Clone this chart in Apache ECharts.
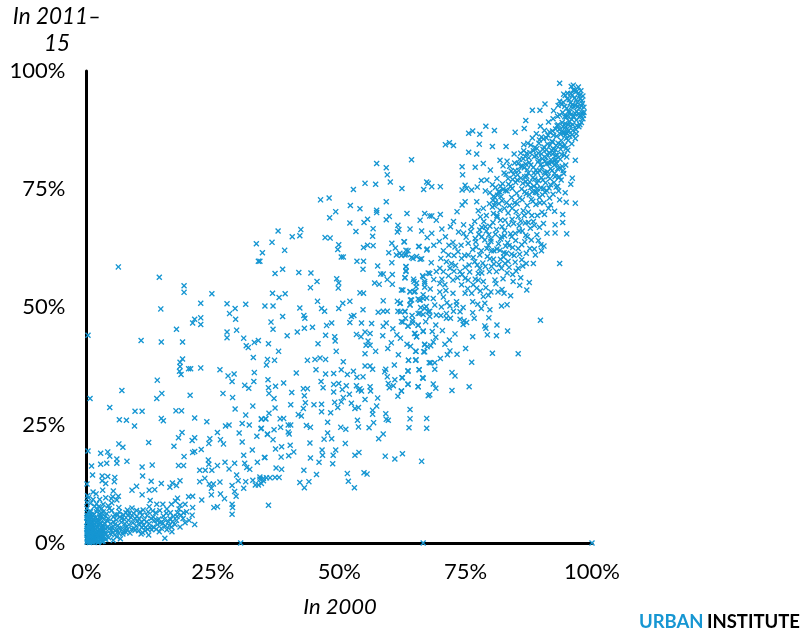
<!DOCTYPE html>
<html><head><meta charset="utf-8">
<style>html,body{margin:0;padding:0;background:#fff}#c{width:800px;height:637px}</style>
<script src="https://cdn.jsdelivr.net/npm/echarts@6/dist/echarts.min.js"></script>
</head><body><div id="c"></div>
<script>
const xTicks = ['0%','25%','50%','75%','100%'];
const yTicks = ['0%','25%','50%','75%','100%'];
const axisEdge = [[30.5,0],[66.6,0],[100,0],[0.3,44],[0.7,30.6],[0.3,19.5],[0.1,12.5],[0.2,10],[0.1,8.6]];
const upperLeft = [[6.3,58.5],[14.4,56.3],[19.3,54.5],[19.3,53.1],[24.8,52.8],[33.6,63.4],[34,59.7],[14.7,49.6],[22.6,50.8],[27.8,50.7],[31.5,50.6],[29.4,49.7],[28.3,48.6],[21.4,47.4],[22.6,47.7],[21,46.6],[22.6,46.3],[29.5,47.4],[17.8,45.3],[27.8,44.7],[27.8,43.5],[29.7,45.1],[31.1,43.4],[10.8,42.9],[14.8,42.6],[19,42.6],[33.2,42.5],[34,42.9],[31.6,41.8],[32,41.4],[19,39],[33,39.3],[18.5,38.3],[18.5,37.4],[18.4,36.4],[18.7,35.7],[20.2,36.9],[20.6,36.9],[22.6,37.1],[26.4,36.7],[28,35.4],[29.2,35.8],[33.2,36.1],[14,34.5],[28.8,34.2],[33.1,34.2],[31.3,33.4],[32.1,32.8],[7,32.3],[14.9,31.7],[20.5,31.3],[27,31.7],[28.9,30.8],[13.9,30.6]];
const lowerLeft = [[4.6,28.7],[6.5,26.1],[7.9,26],[9.6,27.9],[11,27.9],[9.5,24.8],[14.8,26.4],[15.2,25.9],[17.7,28],[18.8,28],[21.4,26.5],[23.8,25.7],[32.9,29],[31.5,27.1],[29.4,28.4],[34.6,26.2],[35.4,26.3],[30.8,25.3],[32.2,25],[27.5,24.8],[28.2,25],[25.9,23.4],[30.2,23.3],[34.5,24.2],[35.8,23.1],[33.7,22.6],[18.9,23.4],[18.2,22.3],[21.4,22.3],[20.9,21.7],[24.4,22.1],[24.2,21.1],[26.5,21.9],[27.1,21],[30.8,21.4],[12.3,21.3],[6.4,21],[7.2,20.3],[17.3,20.5],[22.7,19.8],[21,19.2],[21.4,19.4],[32.8,19.7],[2.8,19],[4.2,19.3],[4.6,18.4],[6,17.8],[6,16.9],[8,17.3],[2.8,16.7],[4,16.9],[1,16.3],[11,16.1],[13,16.5],[19.3,18.3],[18.2,16.4],[19.2,16.4],[24.1,17.6],[24.2,16.7],[27.4,17.1],[29.3,16.9],[31.1,18.6],[31.3,16.9],[33.8,17.1],[35.3,18.1],[25.9,16.4],[28.2,15.7],[31.7,16],[32.3,15.6],[22.4,15.4],[23.5,15.4],[24.8,15.4],[1.2,14.4],[11.1,14.2],[3.1,14.2],[4.2,14.1],[5.6,13.9],[3.1,13.2],[3.8,12.6],[5.5,13],[12.8,13.1],[14.8,12.6],[18.5,13.2],[17,12.7],[16.5,11.8],[17.8,12.2],[22.4,13],[23.4,13.7],[24.3,12.5],[25.1,12.5],[26.4,12.9],[29.7,14.4],[30,13.2],[31.5,13],[32.9,13.3],[34.3,14],[35.6,13.8],[35,13.2],[33.4,12.3],[34,12.3],[28.8,12.2],[31.1,11.6],[9.9,12],[9,11.2],[12.4,11.2],[13.5,11.3],[5.3,11],[1.3,10.8],[11,10.2],[24.7,11.6],[24.7,10.2],[26.5,10.4],[29.3,10.9],[29.6,9.9],[27.3,9.4],[0.4,9.6],[6.3,9.9],[1.3,9.2],[5.2,9.8],[6,9.1],[20.2,9.8],[21,9.9],[22.8,9.1],[12.6,9],[18,9.5],[17.6,8.9],[0.8,8.4],[5,8.5],[3.3,8.2],[28.8,8.2],[28.9,7.5],[28.8,6.1],[36,8],[25.9,7.7],[25.2,7.5],[12.4,7.7],[13.9,8.2],[15.1,8.2],[16.8,8.2],[6.4,7.5],[21,7.5],[18.5,8],[19.5,8.2]];
const lowBand = [[19.8,6.6],[20.9,5.9],[21.4,3.9],[20.3,4.8],[19.5,4.3],[18.5,3.4],[16.8,3.4],[14.4,2.4],[15.5,1],[12.3,1.7],[11.1,2.2],[10.6,6.6],[11,5.9],[8.1,7],[8.5,6.3],[13.2,5.5],[14,3.9],[12.4,4.1],[15.8,6.3],[16.5,5.2],[15.2,5.7],[17.8,4.8],[19.1,5.2],[9.6,2.7],[7.9,3.4],[7.3,2.4],[6,1.3],[4.7,2],[5.3,0.6],[10.9,4.5],[9.6,5.2],[8.3,4.8],[6.6,5.5],[5.3,4.5],[4.3,5.2],[3.3,6.6],[3,5.5],[2,6.6],[0.1,7.3],[0.7,6.8],[3.6,4.2],[4.1,3.3],[4.8,4.1],[5.1,3.2],[5.7,2.6],[6.2,3.7],[6.9,4.4],[7.1,3.1],[7.5,5],[7.8,2.3],[8.4,3.9],[8.9,2.9],[9.2,4.3],[9.8,3.6],[10.3,2.6],[10.5,3.9],[11.4,4.9],[11.7,3.3],[12,5.8],[12.9,2.8],[13.4,4.7],[13.7,6.4],[14.3,5.1],[14.8,3.1],[15.1,4.2],[15.9,2.8],[16.2,4.5],[16.6,6.4],[17.2,5.6],[17.5,3.9],[18,6.4],[18.7,5.9],[3.2,3.4],[3.9,1.9],[4.4,1.1],[4.9,2.7],[5.6,1.7],[6.4,2.1],[6.7,0.9],[3.5,2.6],[3.8,0.8],[4.2,4.6],[5.9,4.9],[6.1,5.9],[7.3,6],[8.8,5.4],[9.3,6.3],[10,5.7],[10.9,3.3],[11.6,2.6],[12.6,3.3],[3,7.3],[2.4,7.7],[1.6,7.8],[4,6.2],[5,6.9],[5.6,6],[3.4,5],[2.7,6.1],[1.5,6.1]];
const originCluster = [[0.1,0.2],[0.3,0.5],[0.6,0.1],[0.9,0.4],[1.2,0.2],[1.6,0.3],[2,0.5],[2.4,0.3],[2.9,0.6],[3.3,0.4],[0.2,1],[0.5,0.9],[0.8,1.1],[1.1,0.8],[1.4,1.2],[1.8,0.9],[2.2,1.1],[2.6,1.3],[3,1],[3.4,1.4],[0.1,1.7],[0.4,1.5],[0.7,1.8],[1,1.6],[1.3,1.9],[1.7,1.5],[2.1,1.8],[2.5,1.9],[2.8,1.6],[3.2,2],[0.2,2.4],[0.5,2.2],[0.9,2.5],[1.2,2.3],[1.5,2.6],[1.9,2.2],[2.3,2.5],[2.7,2.4],[3.1,2.7],[0.1,3],[0.4,3.2],[0.7,2.9],[1,3.1],[1.4,3.3],[1.7,3],[2.1,3.2],[2.5,3],[2.9,3.3],[0.3,3.8],[0.6,3.6],[0.9,3.9],[1.2,3.7],[1.6,4],[2,3.7],[2.4,3.9],[2.8,4.1],[3.2,3.8],[0.1,4.4],[0.4,4.6],[0.8,4.3],[1.1,4.5],[1.5,4.7],[1.9,4.4],[2.3,4.6],[2.7,4.8],[0.2,5.2],[0.6,5],[1,5.3],[1.3,5.1],[1.8,5.4],[2.2,5.1],[2.6,5.5],[0.1,5.9],[0.5,5.7],[0.9,6],[1.2,5.8],[0.3,6.4],[0.8,6.6],[0.15,0.7],[0.35,1.3],[0.45,0.3],[0.65,0.6],[0.75,1.4],[0.95,0.2],[1.05,1.3],[1.25,0.6],[1.35,1.6],[1.45,0.5],[1.55,0.9],[1.65,1.2],[1.75,2],[1.85,0.4],[1.95,1.4],[2.05,0.8],[2.15,1.6],[2.3,0.1],[0.05,2.1],[0.25,2.7],[0.55,2.6],[0.85,2.1],[1.15,2.8],[1.35,2.1],[0.05,3.5],[0.55,3.3],[0.75,3.4],[1.05,3.5],[1.25,4.2],[0.55,4.1],[0.3,4.9],[0.7,5.4],[0.05,5.4],[2.45,2.1],[2.65,0.8],[2.85,2.1],[3.05,0.3],[3.5,0.9],[3.6,2],[3.7,3.1]];
const lowBandExtra = [[2.1,7.1],[2.9,6.4],[3.7,5.7],[4.5,7.3],[5.3,5.5],[6.5,6.6],[7,5.2],[7.8,6.4],[8.2,5.8],[9,7.4],[9.9,6.9],[10.4,5.1],[11.2,7],[11.9,4.5],[12.2,6.6],[12.8,5.2],[13.1,6.8],[13.9,4.8],[14.5,6.9],[15.4,5],[15.9,7.2],[16.4,3.7],[17,4.5],[17.9,5.6],[18.3,7.2],[19.2,6.4],[9.4,3.1],[8.6,2.1],[7.6,4.1],[6.6,3],[5.6,3.9],[4.6,3.1],[5.2,2.2],[6,2.8],[7.2,1.9],[8,2.8],[10.1,4.7],[10.8,1.9],[11.3,3.7],[12.1,2.9],[13.2,3.4],[13.8,2.9],[14.6,4.3],[15.6,3.6],[16.9,2.4],[2.6,9.2],[3.8,9.6],[4.3,7.9],[4.9,9.4],[2,8.3],[1.9,10.4],[3.2,11.2]];
const midCenter = [[57.4,80.4],[59.3,79.5],[64.3,81.2],[59.5,78],[60.1,76.5],[55.1,76.2],[57.2,76],[52.8,74.9],[62.4,75.1],[66.7,74.9],[67.3,76.5],[67.6,76.2],[46.3,72.7],[48,73.1],[59.3,72.3],[52.2,71.5],[54.1,70.8],[49.3,70.2],[57.4,70.5],[57.4,70],[63.4,69.8],[66.9,69.8],[48.1,68.9],[59.9,69.2],[59.3,68.5],[67.9,69.3],[66,68.4],[52.1,67.8],[55.6,68.6],[54.9,67.9],[61.6,67.3],[61.5,65.9],[61.8,66.4],[56.7,66.6],[64,66.5],[66.3,66.1],[53.3,66],[42.4,66.4],[42.2,65.1],[37.9,66.1],[40.7,64.9],[36.7,63.7],[56.6,65],[47.2,64.7],[48.2,64.6],[67.4,64.7],[49.9,63.2],[49.7,62.2],[62.8,63.8],[60.4,63.5],[61.1,62.5],[55.6,63.1],[56.7,63],[54.8,62.6],[65.7,62.8],[67.4,62.3],[39.2,62],[34.8,61.5],[34.3,59.7],[59.8,61.5],[63.2,62],[61.3,61],[62.3,60.9],[63.3,61.1],[64.3,60.5],[65.3,60.7],[66.3,60.2],[50.4,60.6],[50.8,60.6],[53.5,59.7],[54.8,59.7],[60.4,59.4],[57.6,58.7],[54.7,58],[63.2,58.6],[63.2,57.5],[38.8,58],[37.3,57.1],[42,57.3],[44.4,57.2],[58.2,57],[58.7,57],[60.5,56.9],[67.6,57.2],[66.5,56.6],[63,56.2],[49.5,56],[59.5,55.8],[45.6,55.4],[57,55.1],[57.9,54.8],[60.5,54.8],[64.7,55.9],[65.3,55.1],[49.9,55.1],[49.8,54],[44.3,54.1],[62.6,53.6],[66.9,55.4],[66.9,54.2],[64,53.3],[65,53.3],[36.8,52.9],[39.3,52.8],[38.1,52],[54.1,53],[54.8,52.9],[66.6,52.6],[65.9,51.5],[67.3,51.9],[65.6,51.7],[45.7,51.2],[52.1,51.2],[50.7,50.8],[58.7,51.3],[61.5,51.2],[62.1,50.8],[64.1,51.5],[64,50.5],[35.3,50.2],[36.9,50.2],[42.2,49.8],[46.5,49.7],[49.9,49.7],[54.7,49.4],[47.1,49.1],[57.7,48.9],[58.7,49.1],[59.5,49.1],[61.6,49.1],[63,49.1],[67.2,50.1],[67.9,49.1],[65.9,48.7],[66.6,48.4],[52.9,48.2],[52.4,48],[38.8,48],[43,48.2],[43.2,47.6]];
const lowerCenter = [[36.5,46.8],[36.9,45.3],[39.7,43.9],[41.7,44.7],[43.1,45.5],[44.7,45.7],[47.3,44],[49.1,43.7],[49.2,42.8],[47.5,46.1],[48.5,46.6],[52.1,46.7],[54.4,46.6],[56.4,46.5],[58.7,45.9],[59.3,46.6],[62.6,46.8],[64.5,46.6],[63.6,45.9],[65.6,46.1],[66.6,44.9],[64.9,44.4],[65.3,43.7],[53.4,44.2],[55.1,44.7],[56.1,44.4],[54.3,43.7],[55.7,42.8],[55.3,41.9],[56.1,41.9],[60.3,42.4],[36,42.2],[45.8,42.2],[66.9,42],[67.4,41.6],[38,40.6],[49.4,40.6],[55.1,40.1],[57.2,40.6],[65.1,40.6],[66.9,40.5],[35.8,38.9],[37.2,38.7],[35.6,37.7],[43.7,38.7],[45.2,38.9],[46.2,39.2],[47.3,38.9],[50.8,38.4],[63.7,38.7],[65.1,38.7],[67.8,38.2],[60.9,37.7],[55.1,37.5],[56.1,37.5],[56.6,36.8],[59.2,36.8],[45.4,36.7],[50.4,36.7],[52.8,36.4],[59,36.3],[63.6,36.5],[65.8,36.7],[41.5,36],[47.3,35.8],[48.9,35.9],[51.6,35.7],[54.7,35.2],[53.5,35.1],[59.5,35.2],[62.4,35],[66.6,34.9],[35.9,34.6],[46.4,34.2],[39,33.9],[61,34.6],[59.7,33.8],[63.6,33.6],[48.9,33.6],[49.9,33.8],[51.4,33.3],[53.4,33.3],[54.1,32.7],[56.1,33.1],[60.7,33.3],[65.6,33.1],[36,32.9],[37.4,33.2],[46.8,32.9],[42.9,32.7],[43.7,32.7],[48.9,32],[50.6,32.5],[53.8,32.4],[54.4,32.2],[56.2,32.2],[59.9,32.9],[62.3,32.2],[40.6,31.9],[36.1,31.7],[52,31.5],[43.1,31.2],[61.6,31.1],[67.6,31.2],[37.1,30.6],[57.6,30.7],[50.8,30.8],[55.1,30.4],[49.1,29.8],[43.3,29.7],[40.4,29.3],[45,29.3],[46.5,29.4],[52.4,29.6],[50.4,29.9],[49.7,28.7],[57.4,29],[42.9,28.5],[37.3,28.6],[53.1,28.5],[53.8,28.7],[64,28.3],[46.5,27.8],[48.3,27.6],[56.6,28.1],[56.6,27.3],[36.1,27.5],[41.9,27.2],[42.5,26.9],[59.2,27.4],[34.6,26.3],[35.5,26.3],[38.3,26.3],[39,26.4],[53.6,26],[59.3,26.2],[59.7,26],[64,26.3],[67.3,26.4],[47.7,25.6],[56.8,25.5],[39.9,25],[40.4,25],[38.4,24.5],[43.5,24.9],[44.3,24.5],[53.8,24.6],[55.9,24.4],[63.8,24.4],[67.3,24.3],[34.6,24.3],[37.1,24],[50.3,24.5],[51.3,24.1],[39.9,23.5],[40.1,23.1],[35.8,23],[47.7,23.3],[58.7,23.1],[36.9,21.9],[47,22],[48.5,22.1],[57.8,22.1],[44.2,21.2],[51.2,21.1],[40.3,20.7],[38.6,20.4],[37.4,19.9],[46.6,19.7],[41,19.3],[49.3,19.7],[53.9,19.2],[53.1,18.6],[48.8,18.6],[46.7,18.6],[35.2,18.1],[38.5,18.2],[40,18.5],[44.3,18],[59.1,18.4],[61,17.8],[62.5,18.9],[46,17.1],[66.3,17.3],[48.7,16.8],[37.5,15.9],[38.6,15.6],[43,15.4],[45.5,14.5],[51.6,14.7],[54.9,14.9],[55.5,14.6],[35,13.7],[34.3,13.5],[36.3,13.8],[37.3,13.9],[38.1,13.9],[51.8,13.1],[42.2,12.8],[44,13],[34.6,12.6],[43.1,11.7],[53,11.7]];
const rightMid = [[62.9,63.8],[65.8,62.8],[62,61.4],[63,61],[63.6,61.9],[64.6,60.3],[66,60.1],[67.3,62.1],[63.2,58.5],[63.2,57.7],[63,56.2],[62.3,53.6],[64.8,55.4],[65.2,54.3],[64,53.2],[64.8,53.2],[66.9,55],[66.6,56.4],[67.9,57.1],[69.2,57.5],[69.9,58.2],[70.6,57.5],[71.2,59.6],[72.2,59.2],[71.9,58.2],[73.9,57.5],[74.9,56.1],[75.5,55.7],[77.5,57.1],[77.8,58.2],[77.5,55.7],[78.5,55.4],[79.7,57.5],[81.1,57.5],[82.1,58.2],[82.8,59.2],[80.5,60.1],[75.5,61],[76.8,59.6],[77.8,61],[79.3,60.7],[73.5,61.7],[74.2,60.3],[70.6,61.9],[71.6,61],[71.7,63.1],[72.5,63.7],[75.5,63.5],[77,63.8],[78.8,64.2],[79.5,63.1],[81.8,62],[83.1,61.4],[84.1,61.2],[86.7,63.8],[87.7,62.4],[87,61.4],[90,61.9],[90.5,62.9],[86.1,60],[85.4,58.2],[87,59.2],[88.4,59.2],[93.6,59.2],[85.9,56.2],[84.4,55.4],[85.7,54.6],[87.6,55.2],[87.1,53.6],[81.4,53.2],[82.2,53.7],[79.5,52.5],[78.5,52.2],[83.9,52.4],[76.5,54.7],[77.2,54],[76.2,52.9],[74.9,52.9],[74.2,54.7],[72.5,55.7],[72.5,52.9],[70.9,54.7],[69.9,55],[69.9,53.2],[68.6,51.8],[66.6,51.8],[66,51.5],[64.3,51.5],[64,50.4],[62,50.8],[62.1,49],[63,49],[65.6,48.6],[66.9,49.7],[67.6,49],[67.9,48],[69.2,48.3],[70.2,50],[71.9,50.2],[73.2,51.1],[73.2,50.4],[74.5,49.9],[73.9,49],[76.4,51.1],[76.4,48.8],[78.1,49.7],[78.8,50.8],[79.8,49.4],[82.1,50.2],[83.2,50.5],[71.2,47.6],[72,47.6],[71.2,48.6],[76.7,47.6],[79.6,47.7],[89.8,47.2],[74.7,47.1],[74.5,46.3],[62.3,46.9],[64.5,47.2],[63.6,46],[65.6,46.2],[69.1,46.2],[70.4,45],[66.6,44.8],[65,44.4],[65.3,43.7],[78.8,46],[79,45.5],[81.2,46.2],[83.3,44.9],[79.3,44.1],[81.1,43.9],[72.9,44.3],[76.4,43.7],[69.1,43.6],[68.6,42.6],[71.8,43],[70.9,42.1],[66.9,42.1],[68.1,41.8],[65.2,40.6],[66.7,40.5],[75,41.2],[71.9,40.7],[71.4,39.9],[73.3,40],[80.3,40.2],[85.4,40.1],[70,39.1],[63.7,38.7],[65.2,38.8],[68.1,38.2],[68.9,38.2],[76.2,38.3],[65.8,36.7],[63.6,36.4],[68.9,36.8],[72.3,36.1],[72.9,35.4],[62.5,35],[66.5,35],[63.6,33.7],[65.6,33.1],[68.6,33.7],[69.1,32.8],[75.7,33.1],[72.3,32.3],[62.3,32.2],[67.9,31.4],[68.7,63.1],[69.8,63.9],[70.1,60.3],[72.7,60.9],[73,58.8],[74.9,58.4],[75.8,57.4],[76.4,62.2],[78.4,59.3],[80.1,58.6],[80.8,55.7],[82.4,56],[83.2,57.2],[83.6,63],[84.8,59.5],[85.4,62.4],[68.2,59.4],[68.7,55.8],[68,53.8],[70.6,52.1],[71.3,50.9]];
const topOutliers = [[93.6,97.4],[96.3,97],[90.7,93],[88.2,91.7],[89.7,91.7],[86.9,89.5],[79,88.3],[76.4,87.3],[75.6,86.8],[77.8,86.6],[80.7,87.4],[86.6,87.8],[84.8,87],[71,84.4],[71.8,84.8],[72.6,84.2],[77.7,84.5],[80.3,84],[83,84],[75.6,82.8],[77.2,82.4],[74.3,79.7],[76.9,79.6],[74.4,78],[68.3,75.5],[70,75.5],[78.5,80.4],[81.8,81.1],[79.9,79],[79.2,76.9],[74.9,75.8],[76.2,74.8],[75.2,75.1],[74.3,74.8],[80.5,73.4],[81.5,74.4],[74.9,72.3],[77.2,72.3],[74.3,71.6],[73.3,70.2],[70,69.6],[68.3,69.3],[69.2,68.4],[72.6,68.1],[70.3,66.5],[72,67],[71,64.9],[68.3,65.6],[74.6,67.4],[74.6,65.6],[76.2,67],[76.9,64.5],[77.9,69.1],[78.5,70.9],[78.9,67],[80.5,69.8],[81.8,70.5],[82.2,67],[84.1,64.9],[84.5,67.7],[87.8,66.7],[89.1,65.3],[90.4,67.7],[91.1,65.6],[92.7,67.4],[92.7,65.7],[94.2,67.9],[94.2,69.6],[95,65.5],[90.6,69.6],[91.4,70.9],[96.7,72],[94.9,72.2],[94.7,74.2],[93.6,72.7],[93.2,75.6],[95.8,76],[96.1,77.3],[94.4,78.3],[92.7,77.6],[96.7,81.1],[94.8,80.1],[95,81.8],[93,80.4]];
const upperRidgeA = [[80.4,72.6],[80.9,75.3],[81.2,77.2],[81.6,71.9],[82,73.4],[82.3,76.1],[82.6,78.4],[82.9,74.7],[83.1,72.1],[83.4,77.2],[83.7,79.8],[83.9,75.6],[84.1,73.2],[84.2,70.9],[84.5,78.1],[84.7,80.5],[84.9,76.4],[85.1,74.1],[85.2,71.9],[85.4,69.2],[85.5,78.9],[85.7,81.3],[85.9,77.3],[86.1,75],[86.2,72.7],[86.4,70.4],[86.5,83.1],[86.6,79.5],[86.8,81.9],[86.9,76.6],[87,74],[87.2,71.5],[87.3,84.7],[87.4,78.4],[87.6,80.6],[87.7,82.7],[87.9,75.3],[88,72.8],[88.1,69.4],[88.2,85.8],[88.3,77.4],[88.4,79.6],[88.6,81.9],[88.7,83.8],[88.8,74.3],[88.9,71.7],[89,86.7],[89.1,76.2],[89.2,78.5],[89.3,80.7],[89.4,82.6],[89.5,84.7],[89.6,73.2],[89.8,88.3],[89.9,75.2],[90,77.4],[90.1,79.6],[90.2,81.4],[90.3,83.4],[90.4,85.6],[90.5,72.1],[90.6,87.4],[90.7,74.3],[90.8,76.3],[90.9,78.4],[91,80.3],[91.1,82.3],[91.2,84.5],[91.3,86.4],[91.4,89.2]];
const upperRidgeB = [[91.5,75.2],[91.6,73.1],[91.7,77.2],[91.8,79.3],[91.9,81.2],[92,83.2],[92.1,85.1],[92.2,87.3],[92.3,89.9],[92.4,91.6],[92.5,76.4],[92.6,78.3],[92.7,80.2],[92.8,82.1],[92.9,84.2],[93,86.2],[93.1,88.4],[93.2,90.4],[93.3,92.7],[93.4,74.6],[93.5,77.6],[93.6,79.4],[93.7,81.3],[93.8,83.4],[93.9,85.3],[94,87.2],[94.1,89.1],[94.2,91.2],[94.3,93.4],[94.4,95.1],[94.5,82.2],[94.6,84.3],[94.7,86.4],[94.8,88.2],[94.9,90.2],[95,92.1],[95.1,94.1],[95.2,83.2],[95.3,85.3],[95.4,87.4],[95.5,89.3],[95.6,91.3],[95.7,93.2],[95.8,95.2],[95.9,96.7],[96,84.6],[96.1,86.5],[96.2,88.6],[96.3,90.4],[96.4,92.4],[96.5,94.2],[96.6,95.9],[96.7,85.7],[96.8,87.6],[96.9,89.6],[97,91.4],[97.1,93.3],[97.2,95.1],[97.3,96.6],[97.4,88.2],[97.5,90.2],[97.6,92.2],[97.7,94.2],[97.8,95.8],[97.9,89.1],[98,91.2],[98.1,93.1],[98.2,94.7],[98.3,90.6],[98.4,92.3],[94.1,84.1],[94.6,86.9],[95.3,88.6],[95.8,90.7],[96.2,92.9],[96.6,91.1],[96.9,93.9],[97.2,92.5],[96.1,94.9],[95.5,93.9],[95.1,90.4],[94.7,88.9],[94.4,87.1],[93.8,86.6],[93.3,84.7],[92.9,81.2],[92.4,83.4],[92,80.6],[91.6,82.5],[91.2,78.6],[90.7,80.9],[90.3,76.9],[89.7,78.8],[89.2,75.1],[88.7,77.1],[88.2,74.4],[87.7,76.5],[87.2,79.1],[86.7,77.6],[86.2,79.9],[85.7,73.1],[85.2,76.9],[84.7,72.1],[84.2,75.1],[83.7,71.5],[83.2,74.6],[82.7,70.9],[82.2,72.5],[81.7,74.4],[81.2,69.4],[80.7,71.5]];
const ridgeFill = [[86.3,76.2],[87.1,77.7],[87.6,73.8],[88.5,75.6],[88.9,79],[89.4,76.8],[89.9,80.2],[90.4,75.1],[90.9,81.6],[91.3,77.6],[91.7,84.3],[92.1,78.9],[92.4,86.4],[92.8,83.3],[93.2,79.3],[93.5,87.6],[93.7,84.5],[94,82.3],[94.3,88.2],[94.6,90.3],[94.9,85.7],[95.2,87.2],[95.6,86.2],[96,89.7],[95.9,92.4],[93.1,82.2],[92.6,81.1],[92.2,82.4],[91.5,80.4],[91,83.3],[90.6,78.5],[90,82.4],[89.5,81.1],[89,82.1],[88.5,78.4],[87.9,80.1],[87.5,81.6],[86.9,80.3],[86.4,81.4],[85.9,79.8],[85.3,78],[84.8,78.9],[84.3,77],[83.5,76],[83,78.1],[82.4,74.9],[81.9,75.6],[81.3,73.7],[80.8,73.2],[86.7,74.4],[87.3,75.9],[88.3,72.4],[89.1,74.2],[89.7,72.1],[90.2,73.8],[91.1,74.6],[91.8,75.9],[92.3,73.9],[92.9,75.4],[93.9,76.9],[94.3,78.9],[93.4,77.4],[94.1,79.8],[95.3,91.4],[94.6,92.5],[96.4,90.3],[96.7,92.7],[97,88.4],[97.3,90.9],[97.7,90.6],[96.2,87.4],[95.7,88.4],[95,86.8],[94.9,83.6],[93.6,90.7],[93.3,88.6],[92.8,87.7],[92.2,84.9],[91.6,87.1],[91,85.8],[90.5,83.9],[90,86],[89.6,85.4],[89.1,83.6],[88.4,83.1],[87.9,84.3],[87.1,82.6],[86.5,84.4],[85.9,82.6],[85.4,80.4],[84.6,82.4],[84,78.8],[83.2,80.9],[82.4,79.9],[95.2,95.3],[94.7,94.8],[94,92.9],[93.6,93.6],[96.3,96],[97,95.7],[97.6,94.9],[98,93.7],[97.9,92.6],[98.4,91.2],[98.2,89.9],[97.6,88.6],[96.9,86.7]];
const midDense = [[74.1,63.1],[75.1,64.8],[76,66],[77.1,62.7],[77.6,65.4],[78.1,61.9],[79.2,62.4],[80,64.4],[80.6,61.9],[81.5,63.4],[82.1,64.9],[82.9,62.9],[76.8,68.1],[77.5,70.4],[78.2,66.9],[79.1,69.4],[79.8,67.1],[80.3,71.2],[81.1,66.4],[81.9,68.4],[82.7,65.1],[83.5,67.4],[84.8,65.6],[85.6,67.2],[86.2,66.1],[86.8,67.8],[87.2,64.9],[88.6,67.3],[89.6,66.9],[72.9,62.7],[73.6,65.9],[74.8,60.9],[75.7,58.9],[76.5,60.5],[77.3,58.9],[78.2,57.2],[78.9,58.6],[79.8,60.2],[80.6,59.1],[81.6,59],[82.5,60.6],[83.6,58.4],[84.3,56.9],[85,57.6],[86.3,58.7],[71.6,56.6],[72.7,57.6],[73.4,56.2],[74.3,56.9],[75.4,53.9],[76.9,55.9],[77.9,53.4],[79,54.1],[80,53.2],[81,54.9],[82.6,52.9],[70.3,55.9],[71.1,53.5],[68.9,50.4],[70.1,48.2],[72.6,49.1],[73.9,47.4],[75.2,46.7],[77.4,50.6],[66.1,49.9],[67.1,46.9],[68.4,44.8],[64.4,48.2],[63.1,47.6],[61.4,44.1],[60.6,45.4],[62.1,43.4],[63.4,42.1],[58.6,43.9],[59.6,41.2],[61.7,39.9],[64.1,41.7]];
const midRight = [[78.2,64.9],[79.1,66.1],[80,63.9],[80.9,65.4],[81.2,62.3],[81.9,64.4],[82.7,66.2],[83.3,63.6],[83.9,65.5],[84.3,62.6],[84.9,64.1],[85.6,66.1],[86.1,63.2],[86.9,65.2],[87.4,67.9],[88,64.2],[88.6,62.3],[89.4,64.1],[89.9,63.2],[80.4,67.9],[81.2,69],[82.8,68.4],[83.4,69.9],[84.2,68.6],[85,70.2],[85.9,68.2],[86.6,69.4],[87.4,70.1],[88.4,68.1],[89.2,69.4],[90.1,70.1],[77.8,66.3],[78.6,68.1],[79.6,65.3],[80.1,61.9],[81.9,60.1],[82.6,61.5],[83.4,59.7],[84.6,60.9],[85.7,61.2],[88.8,61],[91.8,71.6],[92.6,70.3],[79.7,71.9],[80.9,72.2],[78.9,74.6],[79.8,74.2],[80.3,75.9],[78.1,76.8],[77.3,75.4]];
const scatterData = [].concat(axisEdge,upperLeft,lowerLeft,lowBand,lowBandExtra,originCluster,midCenter,lowerCenter,rightMid,midDense,topOutliers,upperRidgeA,upperRidgeB,ridgeFill,midRight);
const xMark = 'path://M0,1.6L1.6,0L5,3.4L8.4,0L10,1.6L6.6,5L10,8.4L8.4,10L5,6.6L1.6,10L0,8.4L3.4,5Z';
const chart = echarts.init(document.getElementById('c'),null,{renderer:'canvas'});
const fam = 'Lato';
const axisCommon = {type:'value',min:0,max:100,interval:25,splitLine:{show:false},axisTick:{show:false},
  axisLine:{show:true,onZero:false,lineStyle:{color:'#000',width:3}},z:1};
chart.setOption({
  animation:false,
  backgroundColor:'#fff',
  grid:{left:86.5,right:208,top:71,bottom:94,containLabel:false},
  xAxis:Object.assign({},axisCommon,{
    axisLabel:{fontFamily:fam,fontSize:22,color:'#000',margin:18,formatter:(v)=>xTicks[v/25],hideOverlap:false,showMinLabel:true,showMaxLabel:true}}),
  yAxis:Object.assign({},axisCommon,{
    axisLabel:{fontFamily:fam,fontSize:22,color:'#000',margin:21,formatter:(v)=>yTicks[v/25],showMinLabel:true,showMaxLabel:true}}),
  graphic:[
    {type:'text',style:{x:57,y:17,text:'In 2011–',fontFamily:fam,fontStyle:'italic',fontSize:22.5,fill:'#000',align:'center',verticalAlign:'middle'}},
    {type:'text',style:{x:57,y:44,text:'15',fontFamily:fam,fontStyle:'italic',fontSize:22.5,fill:'#000',align:'center',verticalAlign:'middle'}},
    {type:'text',style:{x:340,y:607,text:'In 2000',fontFamily:fam,fontStyle:'italic',fontSize:22,fill:'#000',align:'center',verticalAlign:'middle'}},
    {type:'text',style:{x:800,y:622,align:'right',verticalAlign:'middle',rich:{a:{fontFamily:fam,fontWeight:'bold',fontSize:18.5,fill:'#1696d2'},b:{fontFamily:fam,fontWeight:'bold',fontSize:18.5,fill:'#000'}},text:'{a|URBAN} {b|INSTITUTE}'}}
  ],
  series:[{type:'scatter',data:scatterData,symbol:xMark,symbolSize:6,clip:false,z:5,
    itemStyle:{color:'#1696d2',opacity:1}}]
});
</script></body></html>
